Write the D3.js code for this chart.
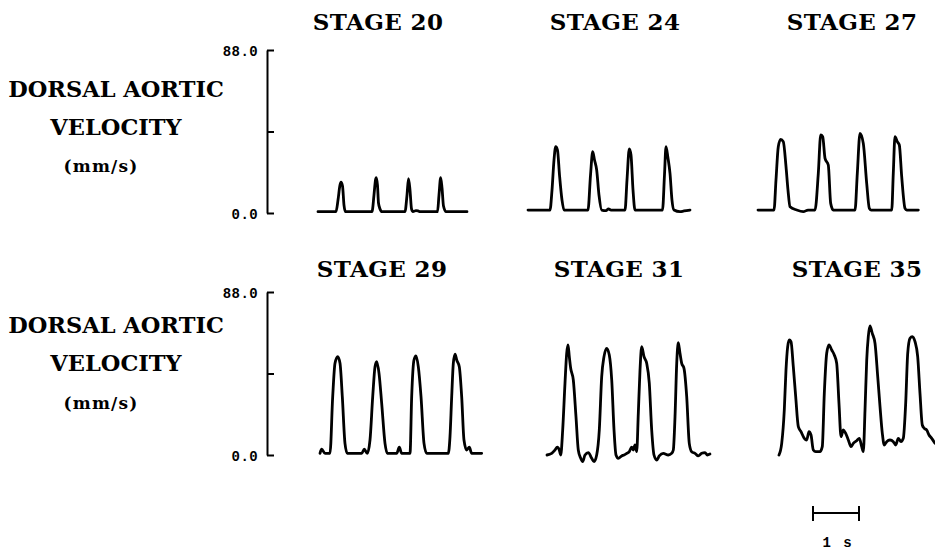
<!DOCTYPE html>
<html lang="en">
<head>
    <meta charset="UTF-8">
    <title>Dorsal aortic velocity</title>
    <script src="https://cdn.jsdelivr.net/npm/d3@7"></script>
    <style>
        body { margin: 0; background: #fff; }
        .trace { fill: none; stroke: #000; stroke-width: 2.8px; stroke-linejoin: round; stroke-linecap: round; }
        .title { font-family: "DejaVu Serif", serif; font-weight: bold; font-size: 23px; letter-spacing: 0.4px; }
        .rowlab { font-family: "DejaVu Serif", serif; font-weight: bold; font-size: 22.5px; }
        .unit { font-family: "DejaVu Serif", serif; font-weight: bold; font-size: 17px; letter-spacing: 1.2px; }
        .axis path, .axis line { stroke: #000; stroke-width: 2px; }
        .axis text { font-family: "Liberation Mono", monospace; font-weight: bold; font-size: 14px; letter-spacing: 0.4px; fill: #000; }
    </style>
</head>
<body>
<div id="svgcontainer"></div>

<script>
    // time (s) , velocity (mm/s)
    const stage20 = [[0,0.7],[0.391,0.7],[0.435,7.0],[0.478,15.1],[0.5,16.6],[0.533,14.6],[0.565,4.3],[0.598,0.7],
        [1.174,0.7],[1.217,9.7],[1.25,17.8],[1.265,19.1],[1.293,15.1],[1.315,5.4],[1.348,2.2],[1.391,0.7],
        [1.891,0.7],[1.935,9.7],[1.967,18.5],[2.0,12.4],[2.033,2.2],[2.065,0.7],[2.13,1.3],[2.174,1.1],[2.217,0.7],
        [2.598,0.7],[2.63,9.7],[2.667,19.1],[2.696,13.5],[2.728,3.8],[2.783,0.7],[3.239,0.7]];
    const stage24 = [[0,1.6],[0.478,1.6],[0.522,12.4],[0.565,28.6],[0.602,35.8],[0.641,34.0],[0.685,20.5],[0.739,7.0],[0.783,1.6],
        [1.304,1.6],[1.359,20.5],[1.407,33.1],[1.446,28.6],[1.493,23.2],[1.543,9.7],[1.602,1.6],[1.696,1.3],[1.75,2.2],[1.804,1.6],
        [2.109,1.6],[2.152,17.8],[2.202,34.6],[2.239,31.3],[2.283,12.4],[2.326,1.6],
        [2.924,1.6],[2.967,20.5],[3.0,35.8],[3.043,29.7],[3.087,21.4],[3.13,7.0],[3.174,1.6],[3.304,0.7],[3.391,1.1],[3.522,1.6]];
    const stage27 = [[0,1.6],[0.348,1.6],[0.391,17.8],[0.441,35.8],[0.493,39.8],[0.55,38.5],[0.609,25.0],[0.652,12.4],[0.696,3.4],
        [0.841,1.6],[0.985,0.7],[1.087,1.6],
        [1.239,1.6],[1.311,21.4],[1.363,42.1],[1.407,41.2],[1.457,29.5],[1.528,25.9],[1.58,5.2],[1.637,1.6],
        [2.109,1.6],[2.159,21.4],[2.217,43.0],[2.289,37.6],[2.363,16.0],[2.42,2.5],[2.457,1.6],
        [2.907,1.6],[2.941,21.4],[2.978,41.2],[3.028,38.5],[3.072,36.7],[3.124,19.6],[3.196,2.5],[3.233,1.6],[3.485,1.6]];
    const stage29 = [[0,0.9],[0.037,3.1],[0.109,0.9],[0.217,0.9],[0.276,31.5],[0.326,49.5],[0.385,53.1],[0.435,49.5],[0.485,31.5],[0.543,6.3],[0.593,0.9],
        [0.907,0.9],[0.963,3.1],[1.028,0.9],[1.087,8.1],[1.146,31.5],[1.196,47.7],[1.233,50.4],[1.283,44.1],[1.341,27.9],[1.413,6.3],[1.463,0.9],
        [1.667,0.9],[1.724,4.2],[1.776,0.9],[1.957,0.9],[1.993,31.5],[2.043,51.3],[2.087,53.5],[2.137,47.7],[2.196,31.5],[2.261,6.3],[2.32,0.9],
        [2.789,0.9],[2.826,9.9],[2.863,31.5],[2.898,49.5],[2.935,54.5],[2.972,51.3],[3.028,47.7],[3.08,31.5],[3.13,8.1],[3.189,2.7],[3.246,4.2],[3.298,0.9],[3.515,0.9]];
    const stage31 = [[0,0],[0.102,0.9],[0.174,2.7],[0.224,4.2],[0.267,2.7],[0.298,0],
        [0.341,13.5],[0.391,38.7],[0.428,54.9],[0.457,59.4],[0.485,53.1],[0.515,46.8],[0.572,40.5],[0.63,20.7],[0.68,2.7],[0.733,-1.8],[0.776,-3.6],
        [0.826,0],[0.898,1.3],[0.972,-1.8],[1.022,-3.6],[1.08,0],
        [1.137,13.5],[1.189,42.3],[1.239,53.1],[1.298,57.6],[1.354,54.0],[1.407,40.5],[1.457,13.5],[1.5,0],[1.55,-1.8],[1.624,-0.5],
        [1.674,0],[1.733,0.9],[1.789,1.8],[1.841,4.2],[1.876,2.7],[1.913,5.4],[1.95,1.8],
        [1.985,22.5],[2.022,45.9],[2.059,58.5],[2.109,53.1],[2.167,49.5],[2.224,38.7],[2.276,13.5],[2.326,0],[2.385,-2.7],[2.441,-0.5],
        [2.528,0.9],[2.637,0],[2.711,0.9],[2.746,2.7],
        [2.783,20.7],[2.82,49.5],[2.854,60.6],[2.891,54.9],[2.928,49.5],[2.978,46.8],[3.037,31.5],[3.093,6.3],[3.145,1.8],
        [3.217,0.9],[3.289,-0.5],[3.363,0.9],[3.435,1.3],[3.485,0],[3.543,0.5]];
    const stage35 = [[0,0],[0.059,6.3],[0.115,24.3],[0.152,45.9],[0.189,58.5],[0.224,62.1],[0.261,61.2],[0.311,47.7],[0.363,31.5],[0.42,15.3],
        [0.478,12.6],[0.55,9.0],[0.602,8.1],[0.652,12.6],[0.696,10.8],[0.746,2.7],[0.798,1.8],[0.891,1.8],[0.941,4.5],
        [0.985,33.3],[1.037,54.9],[1.087,59.4],[1.146,56.7],[1.202,54.0],[1.254,49.5],[1.304,27.9],[1.348,9.9],[1.398,13.5],[1.45,11.7],
        [1.507,8.1],[1.565,4.5],[1.615,6.3],[1.689,7.7],[1.746,9.0],[1.798,4.5],[1.833,1.8],
        [1.87,24.3],[1.907,51.3],[1.941,63.9],[1.978,69.7],[2.028,65.7],[2.087,60.3],[2.146,42.3],[2.196,26.1],[2.246,11.7],[2.289,5.4],
        [2.341,7.2],[2.413,8.1],[2.485,7.2],[2.537,5.4],[2.593,9.0],[2.652,7.2],[2.702,9.0],
        [2.754,27.9],[2.798,54.9],[2.848,63.0],[2.898,63.9],[2.957,61.2],[3.015,53.1],[3.065,33.3],[3.115,16.2],[3.159,14.4],[3.211,13.5],
        [3.261,10.8],[3.32,9.0],[3.391,6.3]];

    const stageNames = ["STAGE 20", "STAGE 24", "STAGE 27", "STAGE 29", "STAGE 31", "STAGE 35"];
    const stageData = [stage20, stage24, stage27, stage29, stage31, stage35];
    const yTicks = [0, 44, 88];
    const yMax = 88;
    const rowLabel = ["DORSAL AORTIC", "VELOCITY"];
    const unitLabel = "(mm/s)";
    const scaleBarSeconds = 1;

    const width = 935;
    const height = 550;
    const PX_PER_SEC = 46;
    const AXIS_X = 267;
    // layout for each row: bottom/top of y axis, title baseline, label baselines
    const ROWS = [
        {y0: 213, y1: 50, title: 30, labels: [97, 135, 173], starts: [318, 528, 758], centers: [378, 615, 852]},
        {y0: 455, y1: 292, title: 277, labels: [333, 371, 410], starts: [320, 547, 779], centers: [382, 619, 857]}
    ];

    const svg = d3.select("#svgcontainer")
        .append("svg")
        .attr("width", width)
        .attr("height", height);

    const line = d3.line()
        .curve(d3.curveMonotoneX)
        .x(function (d) { return d[0]; })
        .y(function (d) { return d[1]; });

    ROWS.forEach(function (row, r) {
        const y = d3.scaleLinear().domain([0, yMax]).range([row.y0, row.y1]);

        svg.append("g")
            .attr("class", "axis")
            .attr("transform", "translate(" + AXIS_X + ",0)")
            .call(d3.axisLeft(y)
                .tickValues(yTicks)
                .tickSizeInner(-7)
                .tickSizeOuter(0)
                .tickPadding(9)
                .tickFormat(function (d) { return d === 44 ? "" : d3.format(".1f")(d); }))
            .call(function (g) { g.selectAll("text").attr("dy", "0.38em"); });

        rowLabel.forEach(function (txt, i) {
            svg.append("text")
                .attr("class", "rowlab")
                .attr("x", 116)
                .attr("y", row.labels[i])
                .attr("text-anchor", "middle")
                .text(txt);
        });
        svg.append("text")
            .attr("class", "unit")
            .attr("x", 101)
            .attr("y", row.labels[2] - 1)
            .attr("text-anchor", "middle")
            .text(unitLabel);

        for (let c = 0; c < 3; c++) {
            const k = r * 3 + c;
            const data = stageData[k];
            const dur = d3.max(data, function (d) { return d[0]; });
            const x = d3.scaleLinear()
                .domain([0, dur])
                .range([row.starts[c], row.starts[c] + dur * PX_PER_SEC]);

            svg.append("text")
                .attr("class", "title")
                .attr("x", row.centers[c])
                .attr("y", row.title)
                .attr("text-anchor", "middle")
                .text(stageNames[k]);

            svg.append("path")
                .attr("class", "trace")
                .attr("d", line(data.map(function (d) { return [x(d[0]), y(d[1])]; })));
        }
    });

    // time scale bar
    const bx = d3.scaleLinear().domain([0, scaleBarSeconds]).range([813, 813 + PX_PER_SEC]);
    const bar = svg.append("g").attr("stroke", "#000").attr("stroke-width", 2);
    bar.append("line").attr("x1", bx(0)).attr("x2", bx(scaleBarSeconds)).attr("y1", 513).attr("y2", 513);
    [0, scaleBarSeconds].forEach(function (t) {
        bar.append("line").attr("x1", bx(t)).attr("x2", bx(t)).attr("y1", 506).attr("y2", 521);
    });
    svg.append("text")
        .attr("x", bx(scaleBarSeconds / 2) + 2)
        .attr("y", 547)
        .attr("text-anchor", "middle")
        .style("font-family", "Liberation Mono, monospace")
        .style("font-weight", "bold")
        .style("font-size", "14px")
        .style("letter-spacing", "2px")
        .text(scaleBarSeconds + " s");
</script>

</body>
</html>
